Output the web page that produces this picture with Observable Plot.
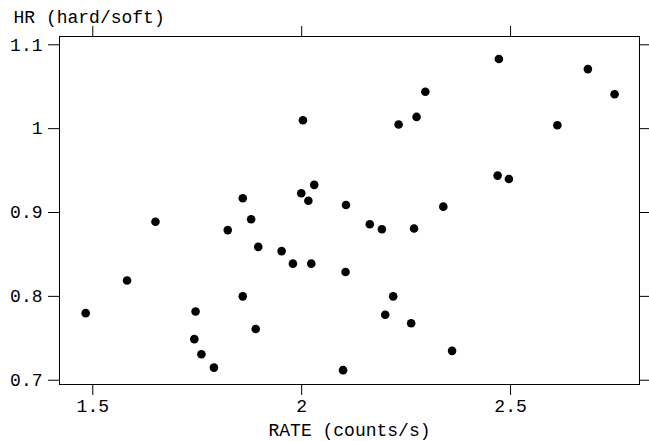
<!DOCTYPE html>
<html>
<head>
<meta charset="utf-8">
<script src="https://cdn.jsdelivr.net/npm/d3@7"></script>
<script src="https://cdn.jsdelivr.net/npm/@observablehq/plot@0.6"></script>
<style>
  html, body { margin: 0; padding: 0; background: #fff; }
</style>
</head>
<body>
<div id="chart"></div>
<script>
const rate = [1.483, 1.582, 1.650, 1.746, 1.743, 1.760, 1.790, 1.823, 1.859, 1.859,
              1.879, 1.896, 1.890, 1.952, 1.979, 1.999, 2.003, 2.016, 2.023, 2.030,
              2.106, 2.105, 2.099, 2.163, 2.192, 2.200, 2.219, 2.232, 2.262, 2.269,
              2.275, 2.296, 2.339, 2.360, 2.469, 2.472, 2.496, 2.612, 2.685, 2.749];
const hr   = [0.780, 0.819, 0.889, 0.782, 0.749, 0.731, 0.715, 0.879, 0.917, 0.800,
              0.892, 0.859, 0.761, 0.854, 0.839, 0.923, 1.010, 0.914, 0.839, 0.933,
              0.909, 0.829, 0.712, 0.886, 0.880, 0.778, 0.800, 1.005, 0.768, 0.881,
              1.014, 1.044, 0.907, 0.735, 0.944, 1.083, 0.940, 1.004, 1.071, 1.041];
const xTicks = [1.5, 2, 2.5];
const yTicks = [0.7, 0.8, 0.9, 1, 1.1];
const xLabel = "RATE (counts/s)";
const yLabel = "HR (hard/soft)";

const data = rate.map((r, i) => ({rate: r, hr: hr[i]}));

const chart = Plot.plot({
  width: 649,
  height: 441,
  marginLeft: 59,
  marginRight: 10,
  marginTop: 36,
  marginBottom: 57,
  style: {fontFamily: "'Liberation Mono', monospace", fontSize: "18px", color: "#000", background: "#fff"},
  x: {domain: [1.4203, 2.8086]},
  y: {domain: [0.6949, 1.1099]},
  marks: [
    Plot.frame({stroke: "#000"}),
    Plot.axisX({anchor: "bottom", ticks: xTicks, tickSize: 11, tickPadding: 4, tickFormat: d => String(d),
                label: xLabel, labelAnchor: "center", labelArrow: "none", labelOffset: 51}),
    Plot.axisX({anchor: "top", ticks: xTicks, tickSize: 11, tickFormat: () => "", label: null}),
    Plot.axisY({anchor: "left", ticks: yTicks, tickSize: 11, tickPadding: 6, tickFormat: d => String(d), label: null}),
    Plot.axisY({anchor: "right", ticks: yTicks, tickSize: 10, tickFormat: () => "", label: null}),
    Plot.text([yLabel], {frameAnchor: "top-left", text: d => d, dx: -46, dy: -14,
                         textAnchor: "start", lineAnchor: "bottom", fill: "#000"}),
    Plot.dot(data, {x: "rate", y: "hr", r: 4.3, fill: "#000", stroke: "none"})
  ]
});
document.getElementById("chart").appendChild(chart);
</script>
</body>
</html>
